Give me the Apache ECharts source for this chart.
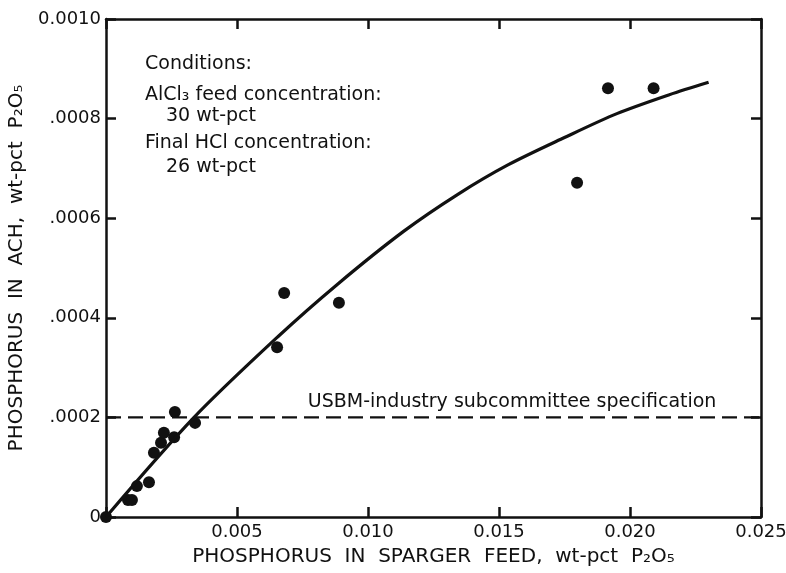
<!DOCTYPE html>
<html>
<head>
<meta charset="utf-8">
<title>Phosphorus in ACH</title>
<script src="https://cdn.jsdelivr.net/npm/echarts@6/dist/echarts.min.js"></script>
</head>
<body style="margin:0;background:#fff;">
<div id="main" style="width:786px;height:573px;"></div>
<script type="text/javascript">
// measured points: phosphorus in sparger feed vs. phosphorus in ACH
var feedX = [0, 0.00084, 0.00099, 0.00118, 0.00164, 0.00183, 0.0021, 0.00221, 0.0026, 0.00263, 0.0034,
             0.00653, 0.0068, 0.00889, 0.01798, 0.01916, 0.0209];
var achY = [0, 0.000034, 0.000034, 0.000062, 0.00007, 0.000129, 0.000149, 0.000169, 0.00016, 0.000211, 0.000189,
            0.000341, 0.00045, 0.00043, 0.000671, 0.000861, 0.000861];

// fitted curve
var curveX = [0, 0.00336, 0.00656, 0.00885, 0.01137, 0.01343, 0.01534, 0.0175, 0.0195, 0.0215, 0.0230];
var curveY = [0, 0.0002, 0.000362, 0.000468, 0.000574, 0.000648, 0.000707, 0.000762, 0.00081, 0.000848, 0.000873];

// specification limit
var specValue = 0.0002;
var specLabel = 'USBM-industry subcommittee specification';

var xTickLabels = { '0.005': '0.005', '0.01': '0.010', '0.015': '0.015', '0.02': '0.020', '0.025': '0.025' };
var yTickLabels = { '0': '0', '0.0002': '.0002', '0.0004': '.0004', '0.0006': '.0006', '0.0008': '.0008', '0.001': '0.0010' };

var conditions = ['Conditions:', 'AlCl₃ feed concentration:', '30 wt-pct', 'Final HCl concentration:', '26 wt-pct'];

var myChart = echarts.init(document.getElementById('main'));

var font = 'DejaVu Sans';
var pts = [];
for (var i = 0; i < feedX.length; i++) pts.push([feedX[i], achY[i]]);
var curve = [];
for (var j = 0; j < curveX.length; j++) curve.push([curveX[j], curveY[j]]);

// conditions block, top left of plot
var condText = [];
var condY = [64, 95, 116, 143, 167];
var condX = [145, 145, 166, 145, 166];
for (var k = 0; k < conditions.length; k++) {
  condText.push({
    type: 'text', x: condX[k], y: condY[k],
    style: { text: conditions[k], font: '19px "' + font + '"', fill: '#111', verticalAlign: 'middle' }
  });
}

var axisLine = { show: true, onZero: false, lineStyle: { color: '#111', width: 2.5 } };
var inTick = { show: true, inside: true, length: 10, lineStyle: { color: '#111', width: 2.5 } };

var option = {
  backgroundColor: '#fff',
  animation: false,
  grid: { left: 106, right: 25, top: 19, bottom: 56, outerBoundsMode: 'none', containLabel: false },
  xAxis: [{
    type: 'value', min: 0, max: 0.025, interval: 0.005,
    axisLine: axisLine, axisTick: inTick, splitLine: { show: false },
    axisLabel: {
      color: '#111', fontSize: 18, fontFamily: font, margin: 6,
      formatter: function (v) { return xTickLabels[String(+v.toFixed(4))] || ''; }
    },
    name: 'PHOSPHORUS  IN  SPARGER  FEED,  wt-pct  P₂O₅',
    nameLocation: 'middle', nameGap: 30,
    nameTextStyle: { color: '#111', fontSize: 20, fontFamily: font }
  }, {
    type: 'value', position: 'top', min: 0, max: 0.025, interval: 0.005,
    axisLine: axisLine, axisTick: inTick, axisLabel: { show: false }, splitLine: { show: false }
  }],
  yAxis: [{
    type: 'value', min: 0, max: 0.001, interval: 0.0002,
    axisLine: axisLine, axisTick: inTick, splitLine: { show: false },
    axisLabel: {
      color: '#111', fontSize: 18, fontFamily: font, margin: 5,
      formatter: function (v) { return yTickLabels[String(+v.toFixed(5))] || ''; }
    },
    name: 'PHOSPHORUS  IN  ACH,  wt-pct  P₂O₅',
    nameLocation: 'middle', nameGap: 78, nameRotate: 90,
    nameTextStyle: { color: '#111', fontSize: 20, fontFamily: font }
  }, {
    type: 'value', position: 'right', min: 0, max: 0.001, interval: 0.0002,
    axisLine: axisLine, axisTick: inTick, axisLabel: { show: false }, splitLine: { show: false }
  }],
  series: [{
    name: 'curve', type: 'line', smooth: 0.3, showSymbol: false,
    data: curve,
    lineStyle: { color: '#111', width: 3.2 }
  }, {
    name: 'spec', type: 'line', showSymbol: false,
    data: [[0, specValue], [0.025, specValue]],
    lineStyle: { color: '#111', width: 2.2, type: [15, 7] },
    markPoint: {
      symbol: 'rect', symbolSize: 1,
      itemStyle: { color: 'rgba(0,0,0,0)' },
      data: [{ coord: [0.0155, specValue] }],
      label: {
        show: true, position: 'inside', formatter: specLabel, offset: [0, -15],
        color: '#111', fontSize: 19, fontFamily: font
      }
    }
  }, {
    name: 'data', type: 'scatter', data: pts,
    symbolSize: 12, itemStyle: { color: '#111', opacity: 1 }
  }],
  graphic: condText
};

myChart.setOption(option);
</script>
</body>
</html>
